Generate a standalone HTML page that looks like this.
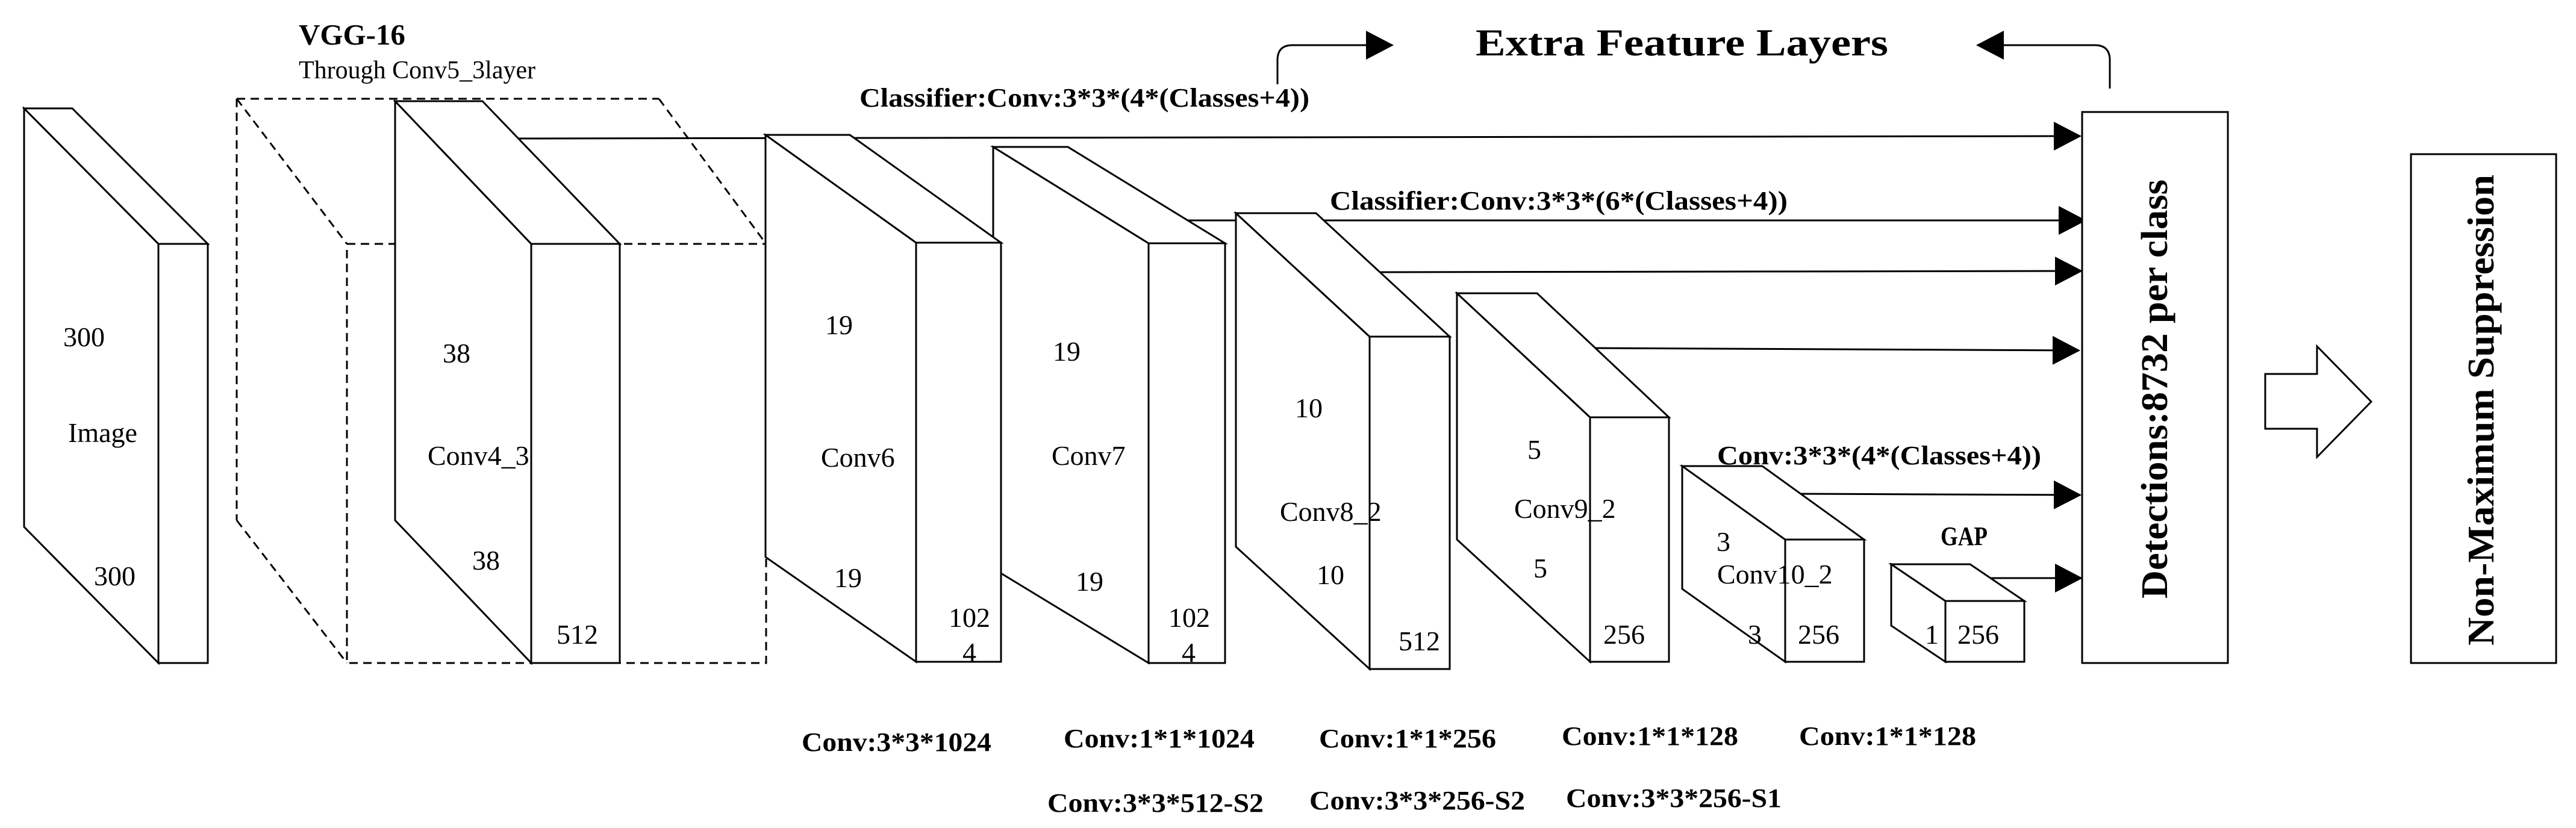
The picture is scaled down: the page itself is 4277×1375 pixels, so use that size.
<!DOCTYPE html>
<html><head><meta charset="utf-8"><style>
html,body{margin:0;padding:0;background:#fff;}
svg{display:block;}
text{font-family:"Liberation Serif",serif;fill:#000;}
.b{font-weight:bold;}
</style></head><body>
<svg width="4277" height="1375" viewBox="0 0 4277 1375" xmlns="http://www.w3.org/2000/svg">
<defs>
<marker id="ah" markerWidth="46" markerHeight="48" refX="44" refY="24" orient="auto" markerUnits="userSpaceOnUse">
<path d="M0,0 L46,24 L0,48 Z" fill="#000"/>
</marker>
</defs>
<g stroke="#000" stroke-width="3" fill="none">
<line x1="850" y1="230" x2="3454" y2="226" marker-end="url(#ah)"/>
<line x1="1960" y1="366" x2="3462" y2="366" marker-end="url(#ah)"/>
<line x1="2280" y1="452" x2="3456" y2="450" marker-end="url(#ah)"/>
<line x1="2640" y1="578" x2="3452" y2="582" marker-end="url(#ah)"/>
<line x1="2980" y1="820" x2="3454" y2="822" marker-end="url(#ah)"/>
<line x1="3290" y1="960" x2="3456" y2="960" marker-end="url(#ah)"/>
<path d="M2121,140 V100 Q2121,75 2146,75 H2312" marker-end="url(#ah)"/>
<path d="M3503,147 V100 Q3503,75 3478,75 H3283" marker-end="url(#ah)"/>
<g stroke-dasharray="14,9">
<line x1="393" y1="164" x2="1094" y2="164"/>
<line x1="393" y1="164" x2="576" y2="405"/>
<line x1="1094" y1="164" x2="1272" y2="405"/>
<line x1="393" y1="164" x2="393" y2="864"/>
<line x1="393" y1="864" x2="576" y2="1101"/>
<rect x="576" y="405" width="696" height="696"/>
</g>
</g>
<g stroke="#000" stroke-width="3" fill="#fff" stroke-linejoin="miter">
<polygon points="40,180 263,405 263,1101 40,875"/>
<polygon points="40,180 120,180 345,405 263,405"/>
<rect x="263" y="405" width="82" height="696"/>
<polygon points="3140,937 3230,998 3230,1099 3140,1039"/>
<polygon points="3140,937 3271,937 3361,998 3230,998"/>
<rect x="3230" y="998" width="131" height="101"/>
<polygon points="2793,774 2964,896 2964,1099 2793,978"/>
<polygon points="2793,774 2926,774 3095,896 2964,896"/>
<rect x="2964" y="896" width="131" height="203"/>
<polygon points="2419,487 2640,693 2640,1099 2419,896"/>
<polygon points="2419,487 2552,487 2771,693 2640,693"/>
<rect x="2640" y="693" width="131" height="406"/>
<polygon points="2052,354 2274,559 2274,1111 2052,908"/>
<polygon points="2052,354 2185,354 2407,559 2274,559"/>
<rect x="2274" y="559" width="133" height="552"/>
<polygon points="1649,244 1907,404 1907,1101 1662,952 1649,944"/>
<polygon points="1649,244 1773,244 2034,404 1907,404"/>
<rect x="1907" y="404" width="127" height="697"/>
<polygon points="1271,224 1521,403 1521,1099 1271,925"/>
<polygon points="1271,224 1411,224 1662,403 1521,403"/>
<rect x="1521" y="403" width="141" height="696"/>
<polygon points="656,168 882,405 882,1101 656,864"/>
<polygon points="656,168 801,168 1029,405 882,405"/>
<rect x="882" y="405" width="147" height="696"/>
<rect x="3457" y="186" width="242" height="915"/>
<rect x="4003" y="256" width="241" height="845"/>
<polygon points="3761,621 3847,621 3847,575 3937,667 3847,759 3847,712 3761,712"/>
</g>
<g font-size="46">
<text x="105" y="575">300</text>
<text x="113" y="734">Image</text>
<text x="156" y="972">300</text>
<text x="735" y="602">38</text>
<text x="710" y="772">Conv4_3</text>
<text x="784" y="946">38</text>
<text x="924" y="1069">512</text>
<text x="1370" y="555">19</text>
<text x="1363" y="775">Conv6</text>
<text x="1385" y="975">19</text>
<text x="1575" y="1041">102</text>
<text x="1598" y="1099">4</text>
<text x="1748" y="599">19</text>
<text x="1746" y="772">Conv7</text>
<text x="1786" y="981">19</text>
<text x="1940" y="1041">102</text>
<text x="1962" y="1099">4</text>
<text x="2150" y="693">10</text>
<text x="2125" y="865">Conv8_2</text>
<text x="2186" y="970">10</text>
<text x="2322" y="1080">512</text>
<text x="2536" y="762">5</text>
<text x="2514" y="860">Conv9_2</text>
<text x="2546" y="959">5</text>
<text x="2662" y="1069">256</text>
<text x="2850" y="915">3</text>
<text x="2851" y="969">Conv10_2</text>
<text x="2902" y="1069">3</text>
<text x="2985" y="1069">256</text>
<text x="3196" y="1069">1</text>
<text x="3250" y="1069">256</text>
<text x="496" y="130" font-size="42">Through Conv5_3layer</text>
</g>
<g class="b" font-size="44">
<text x="496" y="74" font-size="49">VGG-16</text>
<text x="2450" y="92" font-size="64" textLength="685" lengthAdjust="spacingAndGlyphs">Extra Feature Layers</text>
<text x="1427" y="177" textLength="747" lengthAdjust="spacingAndGlyphs">Classifier:Conv:3*3*(4*(Classes+4))</text>
<text x="2208" y="348" textLength="760" lengthAdjust="spacingAndGlyphs">Classifier:Conv:3*3*(6*(Classes+4))</text>
<text x="2851" y="771" textLength="538" lengthAdjust="spacingAndGlyphs">Conv:3*3*(4*(Classes+4))</text>
<text x="3222" y="905" textLength="78" lengthAdjust="spacingAndGlyphs">GAP</text>
<text x="1331" y="1247" textLength="315" lengthAdjust="spacingAndGlyphs">Conv:3*3*1024</text>
<text x="1766" y="1241" textLength="317" lengthAdjust="spacingAndGlyphs">Conv:1*1*1024</text>
<text x="2190" y="1241" textLength="294" lengthAdjust="spacingAndGlyphs">Conv:1*1*256</text>
<text x="2593" y="1237" textLength="293" lengthAdjust="spacingAndGlyphs">Conv:1*1*128</text>
<text x="2987" y="1237" textLength="294" lengthAdjust="spacingAndGlyphs">Conv:1*1*128</text>
<text x="1739" y="1348" textLength="359" lengthAdjust="spacingAndGlyphs">Conv:3*3*512-S2</text>
<text x="2174" y="1344" textLength="358" lengthAdjust="spacingAndGlyphs">Conv:3*3*256-S2</text>
<text x="2600" y="1340" textLength="358" lengthAdjust="spacingAndGlyphs">Conv:3*3*256-S1</text>
<text transform="translate(3598,994) rotate(-90)" font-size="62" textLength="696" lengthAdjust="spacingAndGlyphs">Detections:8732 per class</text>
<text transform="translate(4140,1072) rotate(-90)" font-size="62" textLength="782" lengthAdjust="spacingAndGlyphs">Non-Maximum Suppression</text>
</g>
</svg>
</body></html>
